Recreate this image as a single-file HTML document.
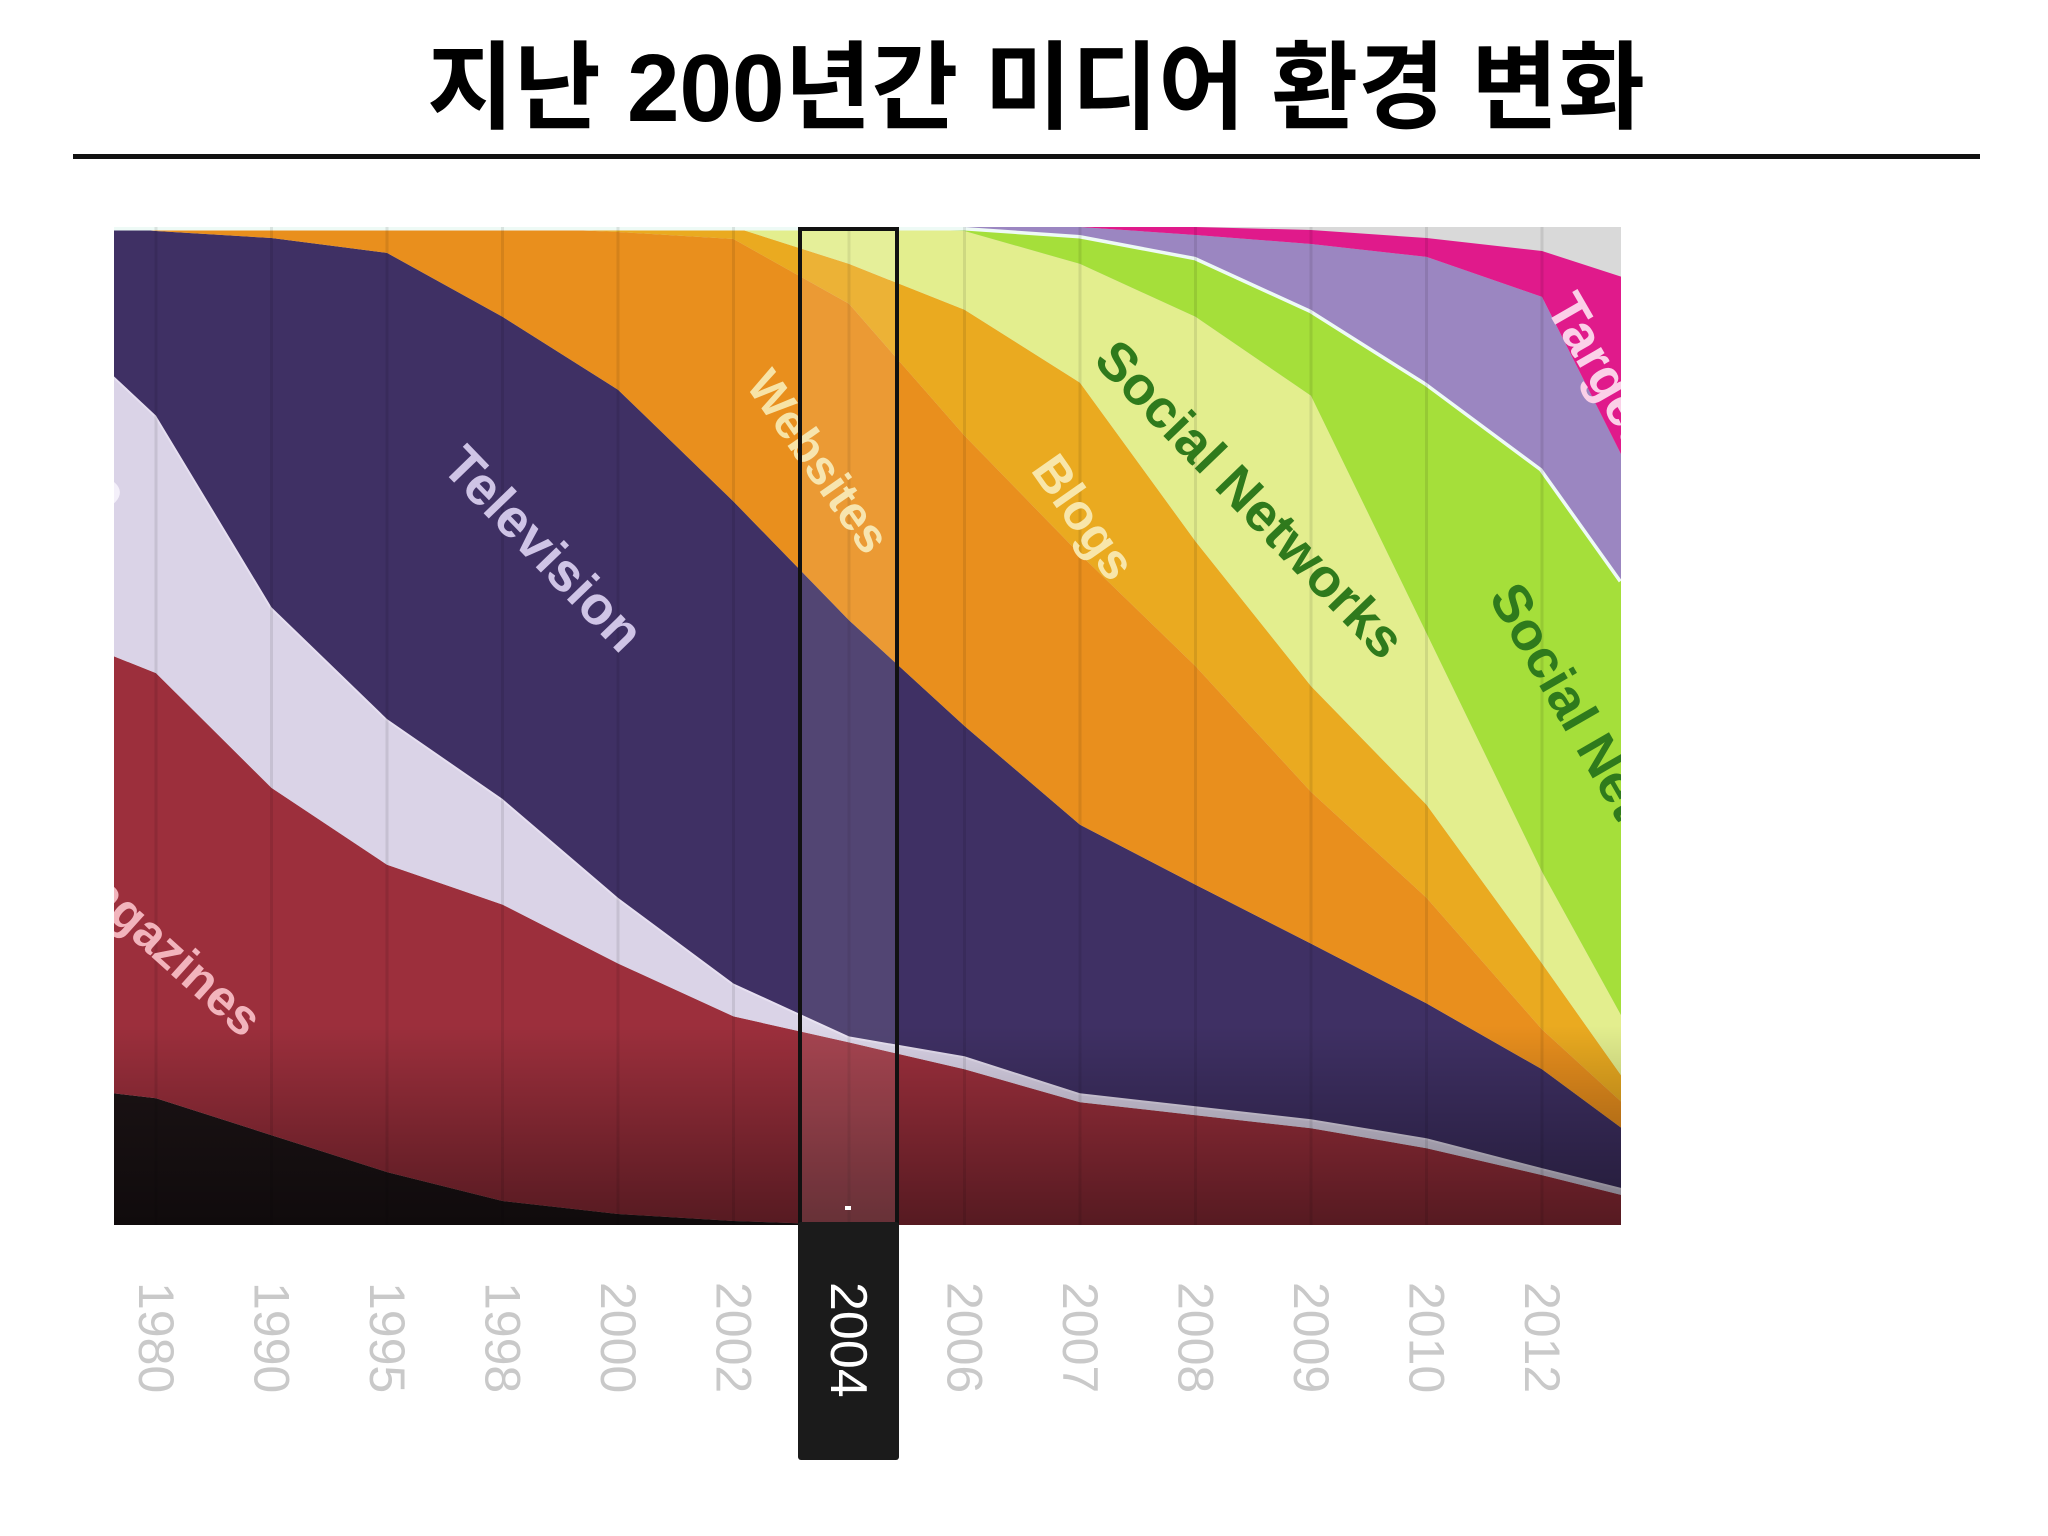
<!DOCTYPE html>
<html><head><meta charset="utf-8">
<style>
html,body{margin:0;padding:0;background:#fff;}
svg{display:block;}
</style></head>
<body>
<svg id="chart" width="2048" height="1536" viewBox="0 0 2048 1536" xmlns="http://www.w3.org/2000/svg">
  <defs>
    <clipPath id="plotClip"><rect x="114" y="227" width="1507" height="998"/></clipPath>
    <linearGradient id="vign" x1="0" y1="0" x2="0" y2="1">
      <stop offset="0" stop-color="#000" stop-opacity="0"/>
      <stop offset="0.8" stop-color="#000" stop-opacity="0"/>
      <stop offset="1" stop-color="#000" stop-opacity="0.45"/>
    </linearGradient>
  </defs>
  <text x="1036" y="121" text-anchor="middle" font-family="'Liberation Sans','Noto Sans CJK KR',sans-serif" font-weight="bold" font-size="96" textLength="1218" lengthAdjust="spacingAndGlyphs" fill="#000">지난 200년간 미디어 환경 변화</text>
  <rect x="73" y="154" width="1907" height="5" fill="#111"/>
  <g id="plot" clip-path="url(#plotClip)">
    <rect x="114" y="227" width="1507" height="998" fill="#d9d9d9"/>
    <g id="areas"></g>
    <g id="grid"></g>
    <rect x="114" y="227" width="1507" height="998" fill="url(#vign)"/>
    <g id="labels" font-family="'Liberation Sans',sans-serif" font-weight="bold">
      <text transform="translate(5,420) rotate(42)" font-size="50" fill="#f4f0fa">Radio</text>
      <text transform="translate(55,870) rotate(42)" font-size="50" fill="#f2b4bc">Magazines</text>
      <text transform="translate(440,468) rotate(46)" font-size="54" fill="#cfc4e6">Television</text>
      <text transform="translate(745,385) rotate(55)" font-size="48" fill="#f7e3a6">Websites</text>
      <text transform="translate(1030,470) rotate(55)" font-size="50" fill="#f8e6aa">Blogs</text>
      <text transform="translate(1092,362) rotate(46)" font-size="54" fill="#2f7a1c">Social Networks</text>
      <text transform="translate(1488,597) rotate(60)" font-size="54" fill="#2f7a1c">Social Networks</text>
      <text transform="translate(1545,307) rotate(60)" font-size="54" fill="#fbd0e8">Targeted</text>
    </g>
    <rect x="801" y="227" width="95" height="998" fill="#fff" opacity="0.1"/>
  </g>
  <g id="xlabels" font-family="'Liberation Sans',sans-serif" font-size="50"></g>
  <rect x="800" y="229" width="97" height="996" fill="none" stroke="#111" stroke-width="4"/>
  <rect x="798" y="1222" width="101" height="238" fill="#1b1b1b" rx="3"/>
  <rect x="845" y="1206" width="6" height="4" fill="#fff"/>
  <text transform="translate(848,1282) rotate(90)" font-family="'Liberation Sans',sans-serif" font-size="52" fill="#fff" dominant-baseline="central">2004</text>
</svg>
<script>
const categories = ["", "1980","1990","1995","1998","2000","2002","2004","2006","2007","2008","2009","2010","2012",""];
const booksValues      = [13.2,12.7,9.0,5.3,2.4,1.1,0.4,0,0,0,0,0,0,0,0];
const magazinesValues  = [43.8,42.6,34.8,30.8,29.7,25.1,20.5,18.3,15.6,12.3,11.0,9.7,7.7,5.0,3.0];
const radioValues      = [28.1,25.8,18.1,14.6,10.6,6.6,3.3,0.6,1.3,0.9,0.9,0.9,1.0,0.7,0.7];
const televisionValues = [14.9,18.5,37.0,46.7,48.3,50.9,48.3,41.7,33.1,26.9,22.2,17.6,13.5,9.9,6.0];
const websitesValues   = [0,0.4,1.1,2.6,9.0,15.8,26.3,31.7,29.1,27.1,21.9,15.2,10.6,4.0,2.6];
const blogsValues      = [0,0,0,0,0,0.5,1.2,4.0,12.6,17.2,12.5,10.6,9.3,6.6,2.6];
const socialValues     = [0,0,0,0,0,0,0,3.7,7.9,11.9,22.5,29.1,17.2,9.2,6.0];
const social2Values    = [0,0,0,0,0,0,0,0,0.4,2.9,6.0,8.6,25.1,40.4,43.7];
const widgetsValues    = [0,0,0,0,0,0,0,0,0,0.8,2.2,6.6,12.6,17.2,12.5];
const targetedValues   = [0,0,0,0,0,0,0,0,0,0,0.8,1.4,1.9,4.6,17.9];
const yearTicks = ["1980","1990","1995","1998","2000","2002","2004","2006","2007","2008","2009","2010","2012"];

const NS = "http://www.w3.org/2000/svg";
const plotTop = 227, plotBottom = 1225;
function slotOf(i){ if(i===0) return -0.37; if(i===categories.length-1) return 12.69; return i-1; }
function xScale(i){ return 156 + slotOf(i)*115.5; }
function yScale(v){ return plotBottom - v/100*(plotBottom-plotTop); }

const series = [
  {name:"books", vals:booksValues, color:"#1d1416"},
  {name:"magazines", vals:magazinesValues, color:"#9c2f3c"},
  {name:"radio", vals:radioValues, color:"#dad3e7"},
  {name:"television", vals:televisionValues, color:"#3f3064"},
  {name:"websites", vals:websitesValues, color:"#e98f1d"},
  {name:"blogs", vals:blogsValues, color:"#eaaa20"},
  {name:"social-networks", vals:socialValues, color:"#e3ee8e"},
  {name:"social-networks-2", vals:social2Values, color:"#a5df3a"},
  {name:"widgets", vals:widgetsValues, color:"#9b86c1"},
  {name:"targeted", vals:targetedValues, color:"#e01a8b"}
];
const areas = document.getElementById("areas");
let base = categories.map(()=>0);
series.forEach(s=>{
  const top = base.map((b,i)=>b+s.vals[i]);
  let d = "";
  top.forEach((v,i)=>{ d += (i?"L":"M")+xScale(i).toFixed(1)+","+yScale(v).toFixed(1)+" "; });
  for(let i=base.length-1;i>=0;i--){ d += "L"+xScale(i).toFixed(1)+","+yScale(base[i]).toFixed(1)+" "; }
  d += "Z";
  const p = document.createElementNS(NS,"path");
  p.setAttribute("d", d);
  p.setAttribute("fill", s.color);
  
  
  areas.appendChild(p);
  if(s.name==="social-networks-2" || s.name==="radio"){
    let ld="";
    top.forEach((v,i)=>{ ld += (i?"L":"M")+xScale(i).toFixed(1)+","+yScale(v).toFixed(1)+" "; });
    const l = document.createElementNS(NS,"path");
    l.setAttribute("d", ld);
    l.setAttribute("fill","none");
    l.setAttribute("stroke", s.name==="radio" ? "#e6dff0" : "#eefaf6");
    l.setAttribute("stroke-width", s.name==="radio" ? "4" : "7");
    
    
    areas.appendChild(l);
  }
  base = top;
});

const grid = document.getElementById("grid");
const xl = document.getElementById("xlabels");
yearTicks.forEach((t,k)=>{
  const i = categories.indexOf(t);
  const x = xScale(i);
  const g = document.createElementNS(NS,"line");
  g.setAttribute("x1",x); g.setAttribute("x2",x);
  g.setAttribute("y1",plotTop); g.setAttribute("y2",plotBottom);
  g.setAttribute("stroke","rgba(0,0,0,0.09)"); g.setAttribute("stroke-width","3");
  
  
  grid.appendChild(g);
  if(t==="2004") return;
  const tx = document.createElementNS(NS,"text");
  tx.setAttribute("transform","translate("+x+",1282) rotate(90)");
  tx.setAttribute("dominant-baseline","central");
  tx.setAttribute("fill","#c9c9c9");
  tx.textContent = t;
  
  
  xl.appendChild(tx);
});
</script>
</body></html>
